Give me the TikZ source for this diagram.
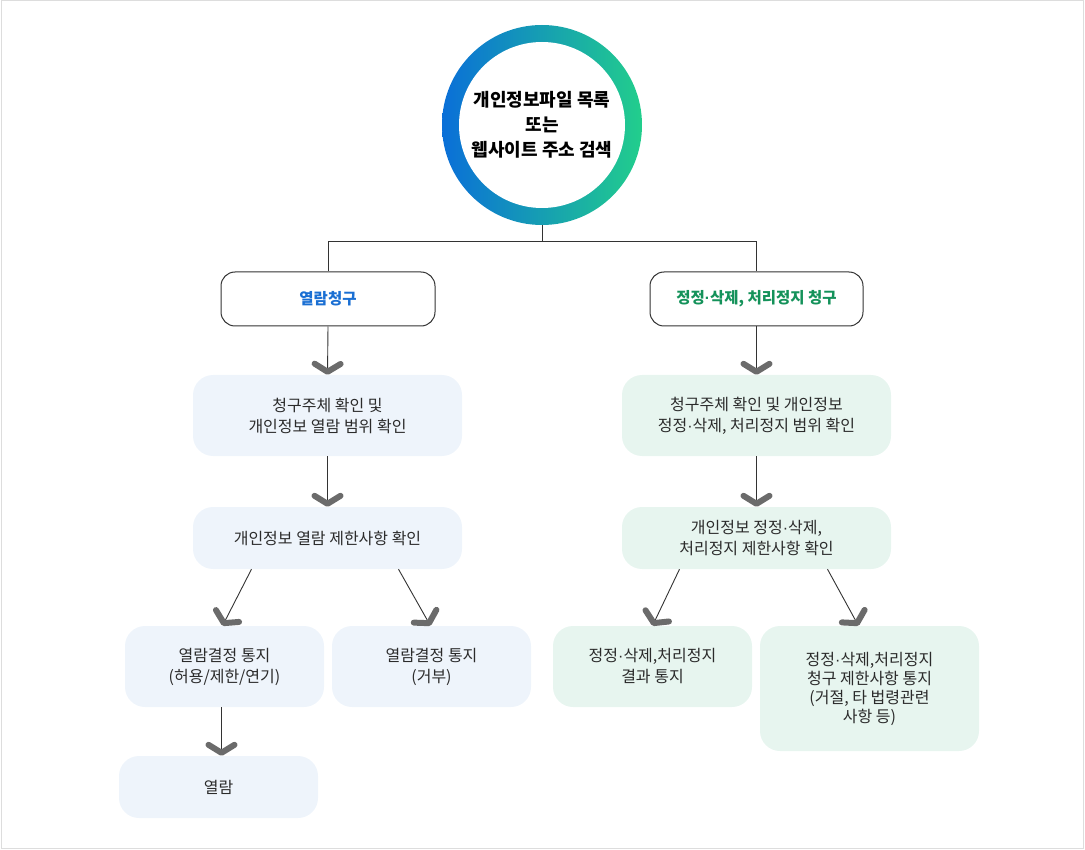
\documentclass[tikz,border=0pt]{standalone}
\usepackage{fontspec}
\setmainfont{Noto Sans CJK KR}
\newfontfamily\dotfont{Liberation Sans}
\newcommand{\pdot}{{\dotfont ·}}
\usetikzlibrary{arrows.meta,positioning}

\definecolor{ringblue}{HTML}{0A6FD8}
\definecolor{ringgreen}{HTML}{22CE8C}
\definecolor{reqblue}{HTML}{1A6FD3}
\definecolor{reqgreen}{HTML}{14925A}
\definecolor{paleblue}{HTML}{EEF4FB}
\definecolor{palegreen}{HTML}{E7F5EF}
\definecolor{linegray}{HTML}{333333}
\definecolor{chevgray}{HTML}{6B6B6B}
\definecolor{textgray}{HTML}{2B2B2B}
\definecolor{framegray}{HTML}{DDDDDD}

\begin{document}
\begin{tikzpicture}[
  x=1pt, y=-1pt,
  font=\fontsize{16}{21}\selectfont,
  srcnode/.style={circle, minimum size=200pt, inner sep=0pt, align=center,
                  text=black, font=\fontsize{18}{25}\selectfont\bfseries,
                  path picture={
                    \shade[left color=ringblue, right color=ringgreen]
                      (path picture bounding box.south west) rectangle (path picture bounding box.north east);
                    \fill[white] (path picture bounding box.center) circle (83pt);}},
  reqbox/.style={draw=linegray, line width=1pt, rounded corners=14pt, fill=white,
                 minimum width=214pt, minimum height=54pt, align=center,
                 font=\fontsize{15.5}{20}\selectfont\bfseries},
  softbox/.style={rounded corners=20pt, align=center, text=textgray, inner sep=2pt},
  bluebox/.style={softbox, fill=paleblue},
  greenbox/.style={softbox, fill=palegreen},
  link/.style={draw=linegray, line width=0.9pt},
  arr/.style={link, -{Straight Barb[length=8pt, width=26pt, line width=6pt, round, color=chevgray]}}
]
\useasboundingbox (0,0) rectangle (1085,850);
\draw[framegray, line width=1pt] (1.5,1) rectangle (1083.5,848.5);

% source
\node[srcnode] (src) at (542,125) {개인정보파일 목록\\또는\\웹사이트 주소 검색};

% requests
\node[reqbox, text=reqblue] (reqL) at (328,299) {열람청구};
\node[reqbox, text=reqgreen, minimum width=213pt] (reqR) at (756.5,299) {정정\pdot 삭제, 처리정지 청구};

% left branch
\node[bluebox, minimum width=269pt, minimum height=81pt] (chkL) at (327.5,415.5) {청구주체 확인 및\\개인정보 열람 범위 확인};
\node[bluebox, minimum width=269pt, minimum height=62pt] (limL) at (327.5,538) {개인정보 열람 제한사항 확인};
\node[bluebox, minimum width=199pt, minimum height=81pt] (decA) at (224.5,666.5) {열람결정 통지\\(허용/제한/연기)};
\node[bluebox, minimum width=199pt, minimum height=81pt] (decB) at (431.5,666.5) {열람결정 통지\\(거부)};
\node[bluebox, minimum width=199pt, minimum height=62pt] (view) at (218.5,787) {열람};

% right branch
\node[greenbox, minimum width=269pt, minimum height=81pt] (chkR) at (756.5,415.5) {청구주체 확인 및 개인정보\\정정\pdot 삭제, 처리정지 범위 확인};
\node[greenbox, minimum width=269pt, minimum height=62pt] (limR) at (756.5,538) {개인정보 정정\pdot 삭제,\\처리정지 제한사항 확인};
\node[greenbox, minimum width=199pt, minimum height=81pt] (resA) at (652.5,666.5) {정정\pdot 삭제,처리정지\\결과 통지};
\node[greenbox, minimum width=219pt, minimum height=125pt, font=\fontsize{16}{19}\selectfont] (resB) at (869.5,688.5) {정정\pdot 삭제,처리정지\\청구 제한사항 통지\\(거절, 타 법령관련\\사항 등)};

% connectors
\draw[link] (src.south) -- ++(0,16) coordinate (hub);
\draw[link] (hub) -| (reqL.north);
\draw[link] (hub) -| (reqR.north);

\draw[arr] (reqL.south) -- (chkL.north);
\draw[arr] (chkL.south) -- (limL.north);
\draw[arr] ([xshift=-76pt]limL.south) -- ([xshift=-2pt]decA.north);
\draw[arr] ([xshift=71pt]limL.south) -- ([xshift=-1pt]decB.north);
\draw[arr] ([xshift=-3pt]decA.south) -- ([xshift=-3pt]decA.south |- view.north);

\draw[arr] (reqR.south) -- (chkR.north);
\draw[arr] (chkR.south) -- (limR.north);
\draw[arr] ([xshift=-77pt]limR.south) -- (resA.north);
\draw[arr] ([xshift=71pt]limR.south) -- ([xshift=-11pt]resB.north);
\end{tikzpicture}
\end{document}
